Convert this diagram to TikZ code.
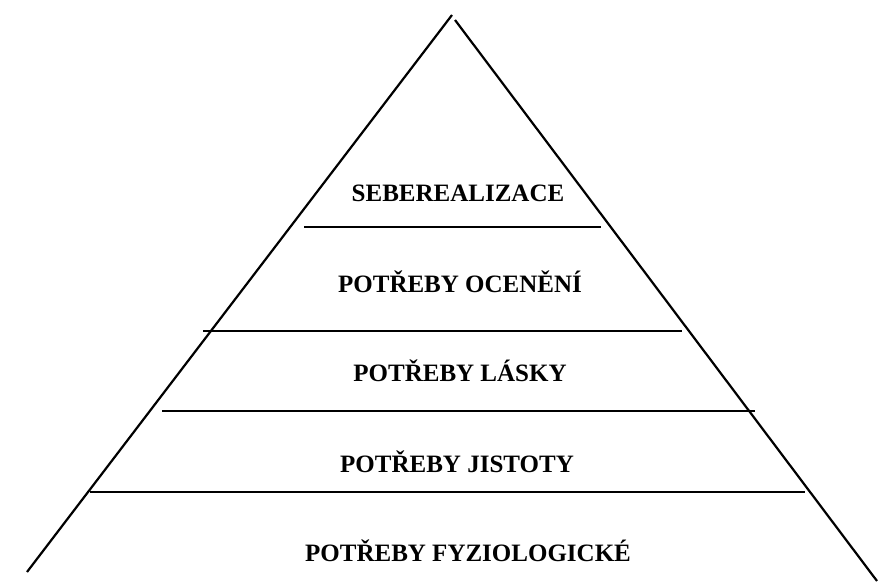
\documentclass[tikz,border=0pt]{standalone}
\usepackage{fontspec}
\setmainfont{Liberation Serif}
\begin{document}
\begin{tikzpicture}[x=1pt,y=-1pt,
  side/.style={line width=2.2pt,black},
  level/.style={line width=1.3pt,black},
  lbl/.style={font=\fontsize{25}{28}\selectfont\bfseries,inner sep=0pt,anchor=center}]
\useasboundingbox (0,0) rectangle (878,588);
% pyramid sides
\coordinate (lt) at (452,15);
\coordinate (lb) at (27,572);
\coordinate (rt) at (455,20);
\coordinate (rb) at (877,581);
\draw[side] (lt) -- (lb);
\draw[side] (rt) -- (rb);
% level lines
\coordinate (h1l) at (304,227); \coordinate (h1r) at (601,227);
\coordinate (h2l) at (203,331); \coordinate (h2r) at (682,331);
\coordinate (h3l) at (162,411); \coordinate (h3r) at (755,411);
\coordinate (h4l) at (90,492);  \coordinate (h4r) at (805,492);
\draw[level] (h1l) -- (h1r);
\draw[level] (h2l) -- (h2r);
\draw[level] (h3l) -- (h3r);
\draw[level] (h4l) -- (h4r);
% labels
\node[lbl] (t1) at (458,193) {SEBEREALIZACE};
\node[lbl] (t2) at (460,282) {POTŘEBY OCENĚNÍ};
\node[lbl] (t3) at (460,371) {POTŘEBY LÁSKY};
\node[lbl] (t4) at (457,462) {POTŘEBY JISTOTY};
\node[lbl] (t5) at (468,551) {POTŘEBY FYZIOLOGICKÉ};
\end{tikzpicture}
\end{document}
